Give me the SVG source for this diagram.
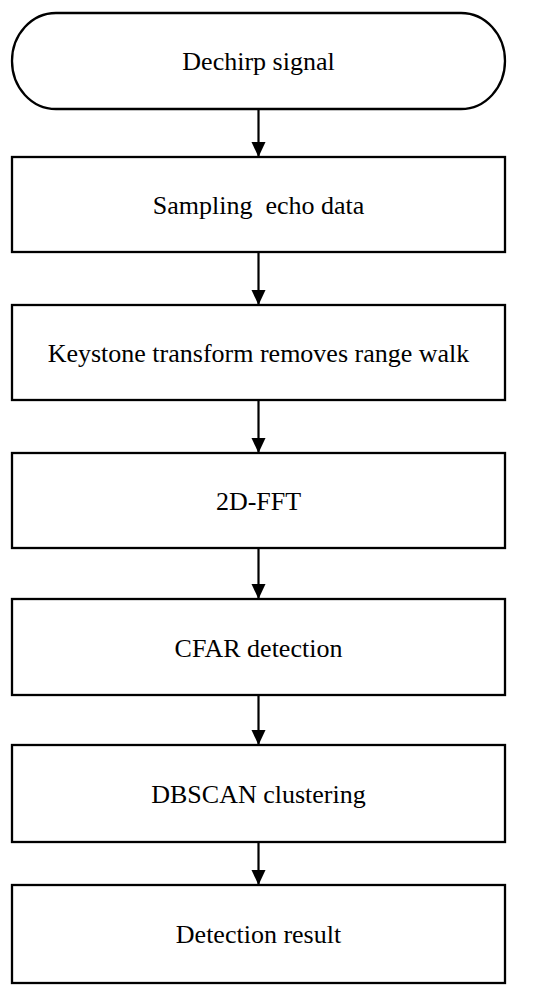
<svg xmlns="http://www.w3.org/2000/svg" width="550" height="1003" viewBox="0 0 550 1003">
<style>
.box{fill:#fff;stroke:#000;stroke-width:2.3}
.lbl{font-family:"Liberation Serif","Times New Roman",serif;font-size:26px;fill:#000;text-anchor:middle}
.conn{stroke:#000;stroke-width:2.2;fill:none}
</style>
<defs>
<marker id="arr" markerUnits="userSpaceOnUse" markerWidth="16" markerHeight="16" refX="15" refY="7" orient="auto">
<path d="M0,0 L15,7 L0,14 Z" fill="#000"/>
</marker>
</defs>
<rect width="550" height="1003" fill="#fff"/>
<g id="n0"><rect class="box" x="12" y="13" width="493" height="96" rx="44" ry="48"/><text class="lbl" x="258.5" y="70">Dechirp signal</text></g>
<g id="n1"><rect class="box" x="12" y="157" width="493" height="95"/><text class="lbl" x="258.5" y="214" xml:space="preserve">Sampling  echo data</text></g>
<g id="n2"><rect class="box" x="12" y="305" width="493" height="95"/><text class="lbl" x="258.5" y="362">Keystone transform removes range walk</text></g>
<g id="n3"><rect class="box" x="12" y="453" width="493" height="95"/><text class="lbl" x="258.5" y="510">2D-FFT</text></g>
<g id="n4"><rect class="box" x="12" y="599" width="493" height="96"/><text class="lbl" x="258.5" y="657">CFAR detection</text></g>
<g id="n5"><rect class="box" x="12" y="745" width="493" height="97"/><text class="lbl" x="258.5" y="803">DBSCAN clustering</text></g>
<g id="n6"><rect class="box" x="12" y="885" width="493" height="98"/><text class="lbl" x="258.5" y="943">Detection result</text></g>
<g id="connectors">
<line class="conn" x1="258.5" y1="109" x2="258.5" y2="157" marker-end="url(#arr)"/>
<line class="conn" x1="258.5" y1="252" x2="258.5" y2="305" marker-end="url(#arr)"/>
<line class="conn" x1="258.5" y1="400" x2="258.5" y2="453" marker-end="url(#arr)"/>
<line class="conn" x1="258.5" y1="548" x2="258.5" y2="599" marker-end="url(#arr)"/>
<line class="conn" x1="258.5" y1="695" x2="258.5" y2="745" marker-end="url(#arr)"/>
<line class="conn" x1="258.5" y1="842" x2="258.5" y2="885" marker-end="url(#arr)"/>
</g>
</svg>
